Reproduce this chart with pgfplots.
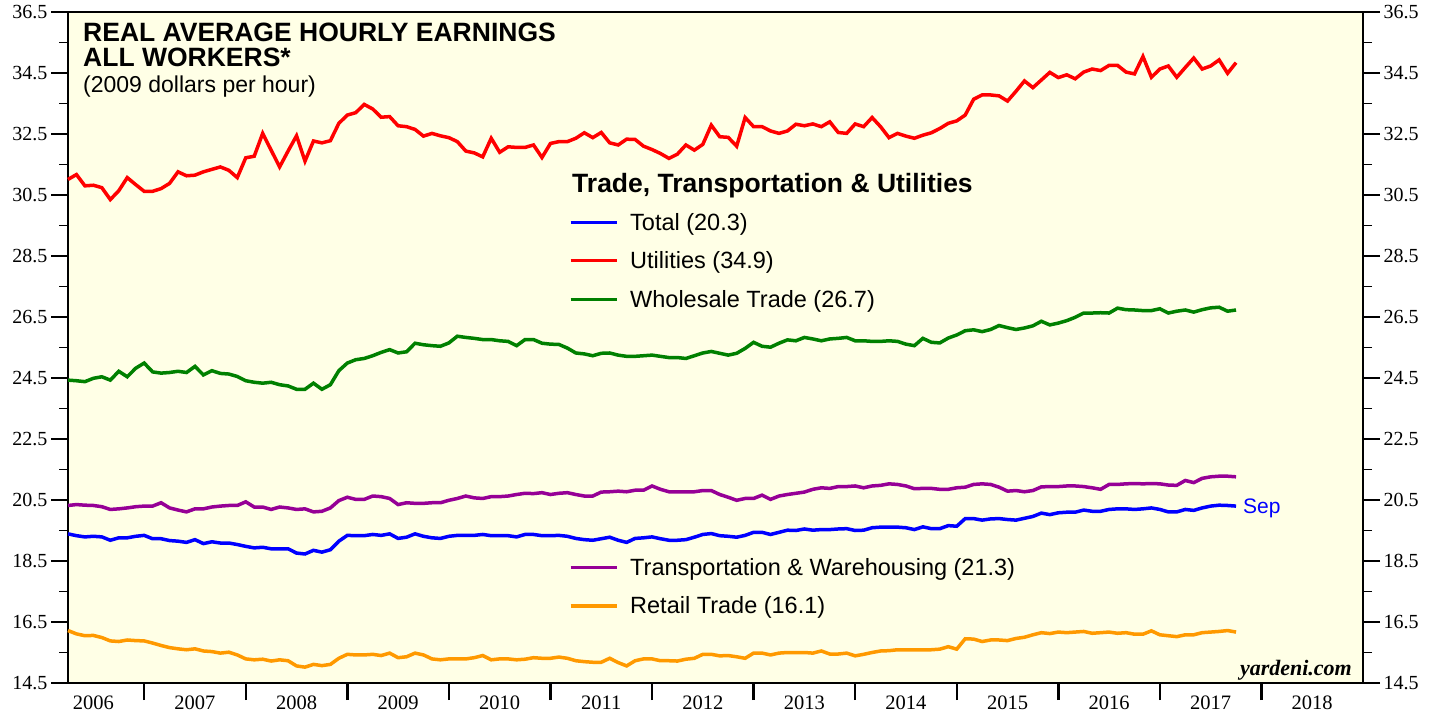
\documentclass[border=0pt]{standalone}
\usepackage{fontspec}
\setmainfont{Liberation Sans}
\newfontfamily\serifnum{Liberation Serif}
\usepackage{pgfplots}
\usepackage{pgfplotstable}
\pgfplotsset{compat=1.18}
\definecolor{bgyellow}{RGB}{255,255,230}
\definecolor{cgreen}{RGB}{0,128,0}
\definecolor{cpurple}{RGB}{150,0,150}
\definecolor{corange}{RGB}{255,153,0}
\pgfplotstableread{
m r g p b o
3 31.01 24.43 20.32 19.39 16.22
4 31.17 24.41 20.35 19.33 16.11
5 30.80 24.38 20.33 19.29 16.05
6 30.82 24.49 20.32 19.31 16.06
7 30.74 24.54 20.28 19.29 15.99
8 30.35 24.43 20.19 19.18 15.88
9 30.64 24.72 20.21 19.26 15.86
10 31.07 24.54 20.24 19.26 15.91
11 30.84 24.82 20.28 19.31 15.89
12 30.62 24.99 20.30 19.34 15.88
13 30.62 24.70 20.30 19.23 15.81
14 30.71 24.66 20.41 19.23 15.73
15 30.88 24.68 20.24 19.17 15.66
16 31.26 24.72 20.17 19.15 15.62
17 31.13 24.68 20.11 19.11 15.59
18 31.15 24.88 20.21 19.20 15.62
19 31.26 24.60 20.21 19.07 15.55
20 31.34 24.74 20.27 19.13 15.53
21 31.42 24.65 20.30 19.09 15.48
22 31.31 24.63 20.32 19.09 15.51
23 31.07 24.55 20.32 19.04 15.42
24 31.72 24.41 20.44 18.98 15.29
25 31.77 24.36 20.27 18.93 15.26
26 32.52 24.33 20.27 18.95 15.28
27 31.97 24.36 20.19 18.90 15.22
28 31.42 24.28 20.27 18.90 15.26
29 31.94 24.24 20.24 18.90 15.23
30 32.44 24.13 20.19 18.76 15.06
31 31.61 24.13 20.21 18.73 15.02
32 32.27 24.33 20.11 18.85 15.11
33 32.21 24.13 20.13 18.79 15.07
34 32.28 24.28 20.24 18.87 15.11
35 32.85 24.74 20.48 19.15 15.31
36 33.12 24.99 20.59 19.34 15.44
37 33.20 25.10 20.52 19.33 15.42
38 33.47 25.14 20.52 19.33 15.42
39 33.32 25.23 20.63 19.37 15.44
40 33.05 25.34 20.61 19.34 15.40
41 33.07 25.43 20.55 19.39 15.48
42 32.77 25.32 20.35 19.24 15.33
43 32.74 25.36 20.41 19.28 15.36
44 32.65 25.64 20.39 19.39 15.48
45 32.43 25.59 20.39 19.31 15.42
46 32.52 25.56 20.41 19.26 15.29
47 32.44 25.54 20.41 19.24 15.26
48 32.38 25.65 20.49 19.31 15.29
49 32.25 25.87 20.55 19.34 15.29
50 31.94 25.83 20.63 19.34 15.29
51 31.88 25.80 20.57 19.34 15.33
52 31.75 25.76 20.55 19.37 15.40
53 32.36 25.76 20.61 19.33 15.26
54 31.90 25.72 20.61 19.33 15.29
55 32.08 25.70 20.63 19.33 15.29
56 32.06 25.56 20.68 19.29 15.26
57 32.06 25.76 20.72 19.37 15.28
58 32.14 25.76 20.71 19.37 15.33
59 31.73 25.64 20.74 19.33 15.31
60 32.19 25.61 20.68 19.33 15.31
61 32.25 25.60 20.72 19.34 15.35
62 32.25 25.48 20.74 19.31 15.31
63 32.36 25.32 20.68 19.24 15.23
64 32.54 25.29 20.63 19.20 15.20
65 32.38 25.23 20.63 19.18 15.18
66 32.55 25.31 20.76 19.23 15.18
67 32.21 25.32 20.77 19.28 15.31
68 32.14 25.25 20.79 19.18 15.17
69 32.33 25.21 20.77 19.11 15.06
70 32.32 25.21 20.82 19.24 15.23
71 32.10 25.23 20.82 19.26 15.29
72 31.99 25.25 20.96 19.29 15.29
73 31.86 25.21 20.85 19.23 15.23
74 31.70 25.17 20.77 19.18 15.23
75 31.84 25.17 20.77 19.18 15.22
76 32.14 25.14 20.77 19.20 15.28
77 31.97 25.23 20.77 19.28 15.31
78 32.16 25.32 20.81 19.37 15.44
79 32.79 25.37 20.81 19.40 15.44
80 32.41 25.31 20.68 19.33 15.39
81 32.39 25.25 20.59 19.31 15.40
82 32.10 25.31 20.49 19.28 15.36
83 33.04 25.47 20.55 19.34 15.31
84 32.74 25.67 20.55 19.44 15.48
85 32.74 25.54 20.66 19.44 15.48
86 32.60 25.51 20.52 19.37 15.42
87 32.52 25.64 20.63 19.44 15.48
88 32.60 25.75 20.68 19.51 15.50
89 32.82 25.72 20.72 19.50 15.50
90 32.77 25.83 20.76 19.55 15.50
91 32.83 25.78 20.85 19.51 15.48
92 32.74 25.72 20.90 19.53 15.55
93 32.90 25.78 20.88 19.53 15.45
94 32.55 25.80 20.94 19.55 15.45
95 32.52 25.83 20.94 19.56 15.48
96 32.83 25.72 20.96 19.50 15.39
97 32.74 25.72 20.90 19.51 15.44
98 33.04 25.70 20.96 19.59 15.50
99 32.74 25.70 20.98 19.61 15.55
100 32.38 25.72 21.03 19.61 15.56
101 32.52 25.70 21.01 19.61 15.59
102 32.43 25.61 20.96 19.59 15.59
103 32.36 25.56 20.87 19.53 15.59
104 32.46 25.80 20.88 19.62 15.59
105 32.54 25.67 20.88 19.56 15.59
106 32.68 25.65 20.85 19.56 15.61
107 32.85 25.81 20.85 19.66 15.69
108 32.93 25.91 20.90 19.64 15.61
109 33.12 26.05 20.92 19.89 15.95
110 33.64 26.08 21.01 19.89 15.94
111 33.78 26.02 21.03 19.84 15.86
112 33.78 26.09 21.01 19.88 15.91
113 33.75 26.22 20.92 19.89 15.91
114 33.58 26.15 20.79 19.86 15.89
115 33.90 26.09 20.81 19.84 15.96
116 34.24 26.14 20.77 19.90 16.00
117 34.02 26.21 20.81 19.96 16.08
118 34.27 26.36 20.93 20.07 16.15
119 34.52 26.24 20.94 20.02 16.12
120 34.35 26.30 20.94 20.08 16.17
121 34.44 26.38 20.96 20.10 16.15
122 34.31 26.49 20.96 20.10 16.17
123 34.53 26.63 20.94 20.17 16.19
124 34.63 26.63 20.90 20.13 16.13
125 34.58 26.64 20.85 20.13 16.15
126 34.75 26.63 21.01 20.19 16.17
127 34.75 26.79 21.01 20.21 16.13
128 34.53 26.74 21.03 20.21 16.15
129 34.47 26.73 21.04 20.19 16.10
130 35.04 26.71 21.03 20.21 16.10
131 34.36 26.71 21.04 20.24 16.21
132 34.63 26.77 21.03 20.19 16.08
133 34.73 26.63 20.99 20.11 16.05
134 34.36 26.69 20.98 20.11 16.02
135 34.68 26.73 21.14 20.19 16.08
136 34.99 26.66 21.07 20.16 16.08
137 34.63 26.74 21.21 20.24 16.15
138 34.73 26.80 21.26 20.30 16.17
139 34.93 26.82 21.28 20.33 16.19
140 34.49 26.69 21.28 20.32 16.22
141 34.84 26.73 21.26 20.30 16.17
}\datatable
\begin{document}
\begin{tikzpicture}
\path[use as bounding box] (-68pt,-34pt) rectangle (1371pt,683pt);
\begin{axis}[
  scale only axis, width=1295pt, height=671pt,
  xmin=2006.25, xmax=2019, ymin=14.5, ymax=36.5,
  axis background/.style={fill=bgyellow},
  axis line style={line width=2.6pt},
  xtick={2006.5,2007.5,2008.5,2009.5,2010.5,2011.5,2012.5,2013.5,2014.5,2015.5,2016.5,2017.5,2018.5},
  xticklabels={2006,2007,2008,2009,2010,2011,2012,2013,2014,2015,2016,2017,2018},
  x tick style={draw=none},
  xtick pos=left, ytick pos=left,
  ytick={14.5,16.5,18.5,20.5,22.5,24.5,26.5,28.5,30.5,32.5,34.5,36.5},
  minor ytick={15.5,17.5,19.5,21.5,23.5,25.5,27.5,29.5,31.5,33.5,35.5},
  tick align=outside, major tick length=17pt, minor tick length=9pt,
  y tick style={line width=1.5pt, black},
  yticklabel style={font=\serifnum\fontsize{20}{20}\selectfont, /pgf/number format/.cd, fixed, fixed zerofill, precision=1, assume math mode=true},
  xticklabel style={font=\serifnum\fontsize{20.5}{20.5}\selectfont, yshift=8pt},
  clip=false,
]
\addplot[corange, line width=3.5pt] table[x expr=2006+\thisrow{m}/12, y=o] {\datatable};
\addplot[cpurple, line width=3.5pt] table[x expr=2006+\thisrow{m}/12, y=p] {\datatable};
\addplot[cgreen, line width=3.5pt] table[x expr=2006+\thisrow{m}/12, y=g] {\datatable};
\addplot[red, line width=3.5pt] table[x expr=2006+\thisrow{m}/12, y=r] {\datatable};
\addplot[blue, line width=3.5pt] table[x expr=2006+\thisrow{m}/12, y=b] {\datatable};
\end{axis}
\begin{axis}[
  scale only axis, width=1295pt, height=671pt,
  xmin=2006.25, xmax=2019, ymin=14.5, ymax=36.5,
  axis line style={draw=none},
  xtick={2007,2008,2009,2010,2011,2012,2013,2014,2015,2016,2017,2018},
  xticklabels={},
  x tick style={line width=2.4pt, black},
  xtick pos=left, ytick pos=right, yticklabel pos=right,
  ytick={14.5,16.5,18.5,20.5,22.5,24.5,26.5,28.5,30.5,32.5,34.5,36.5},
  minor ytick={15.5,17.5,19.5,21.5,23.5,25.5,27.5,29.5,31.5,33.5,35.5},
  tick align=outside, major tick length=17pt, minor tick length=9pt,
  y tick style={line width=1.5pt, black},
  yticklabel style={font=\serifnum\fontsize{20}{20}\selectfont, /pgf/number format/.cd, fixed, fixed zerofill, precision=1, assume math mode=true},
]
\end{axis}
% titles
\node[anchor=base west, inner sep=0pt, font=\fontsize{26.5}{26.5}\selectfont\bfseries] at (15pt,641pt) {REAL AVERAGE HOURLY EARNINGS};
\node[anchor=base west, inner sep=0pt, font=\fontsize{26.5}{26.5}\selectfont\bfseries] at (15pt,616pt) {ALL WORKERS*};
\node[anchor=base west, inner sep=0pt, font=\fontsize{23}{23}\selectfont] at (15pt,590pt) {(2009 dollars per hour)};
% legend
\node[anchor=base west, inner sep=0pt, font=\fontsize{26.5}{26.5}\selectfont\bfseries] at (504pt,490pt) {Trade, Transportation \& Utilities};
\draw[blue, line width=3.5pt] (502.7pt,460.3pt) -- (548.7pt,460.3pt);
\node[anchor=base west, inner sep=0pt, font=\fontsize{23.5}{23.5}\selectfont] at (562pt,452.3pt) {Total (20.3)};
\draw[red, line width=3.5pt] (502.7pt,422.3pt) -- (548.7pt,422.3pt);
\node[anchor=base west, inner sep=0pt, font=\fontsize{23.5}{23.5}\selectfont] at (562pt,414.3pt) {Utilities (34.9)};
\draw[cgreen, line width=3.5pt] (502.7pt,383.7pt) -- (548.7pt,383.7pt);
\node[anchor=base west, inner sep=0pt, font=\fontsize{23.5}{23.5}\selectfont] at (562pt,375.7pt) {Wholesale Trade (26.7)};
\draw[cpurple, line width=3.5pt] (502.7pt,115.3pt) -- (548.7pt,115.3pt);
\node[anchor=base west, inner sep=0pt, font=\fontsize{23.5}{23.5}\selectfont] at (562pt,107.3pt) {Transportation \& Warehousing (21.3)};
\draw[corange, line width=3.5pt] (502.7pt,77pt) -- (548.7pt,77pt);
\node[anchor=base west, inner sep=0pt, font=\fontsize{23.5}{23.5}\selectfont] at (562pt,69pt) {Retail Trade (16.1)};
\node[anchor=base west, inner sep=0pt, text=blue, font=\fontsize{21}{21}\selectfont] at (1175pt,169pt) {Sep};
\node[anchor=base east, inner sep=0pt, font=\serifnum\fontsize{22}{22}\selectfont\bfseries\itshape] at (1284pt,8pt) {yardeni.com};
\end{tikzpicture}
\end{document}
